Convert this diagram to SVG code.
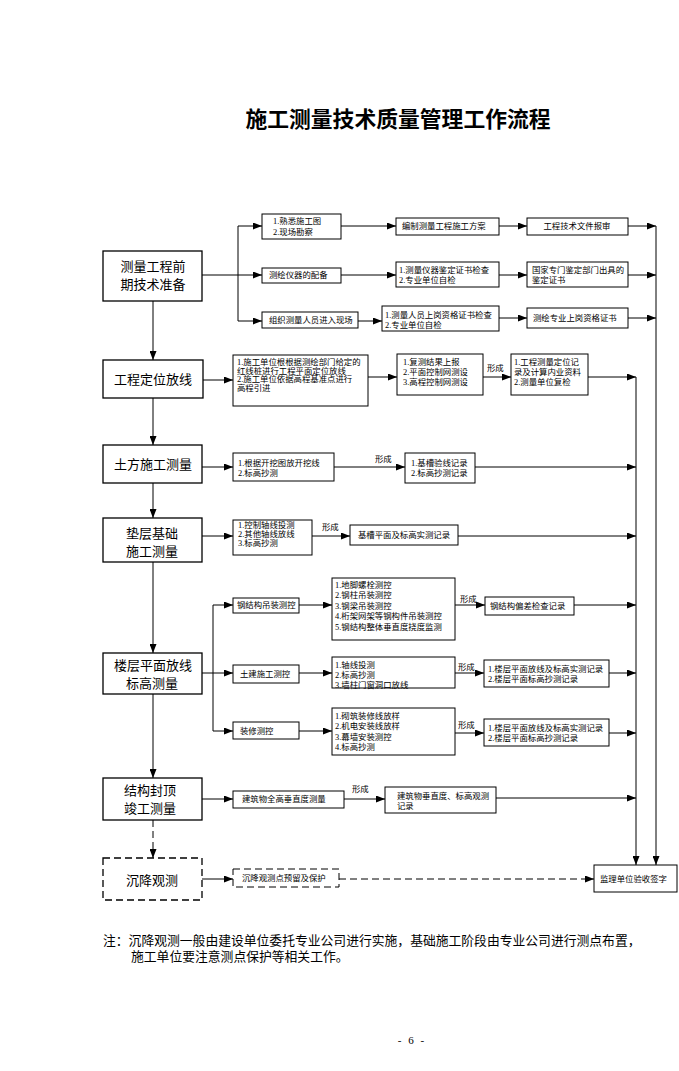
<svg xmlns="http://www.w3.org/2000/svg" width="679" height="1071" viewBox="0 0 679 1071">
<style>
.bg{fill:#fff}
.box{fill:#fff;stroke:#000;stroke-width:1}
.big{fill:#fff;stroke:#000;stroke-width:1.3}
.dash{stroke-dasharray:7,4}
.ln{fill:none;stroke:#000;stroke-width:1}
text{font-family:"Liberation Serif","Noto Sans CJK SC",serif;fill:#000}
.s{font-size:8.4px;dominant-baseline:central}
.L{font-size:13px;dominant-baseline:central;text-anchor:middle}
.c{text-anchor:middle}
</style>
<defs>
<marker id="ah" markerUnits="userSpaceOnUse" markerWidth="9" markerHeight="7" refX="9" refY="3.5" orient="auto">
<path d="M0,0 L9,3.5 L0,7 z" fill="#000"/>
</marker>
</defs>
<rect class="bg" x="0" y="0" width="679" height="1071"/>
<text x="398" y="127" font-size="21.8" font-weight="bold" text-anchor="middle">施工测量技术质量管理工作流程</text>

<g id="connectors">
<g class="ln" marker-end="url(#ah)">
<path d="M202,275 H262"/>
<path d="M238,226 H262"/>
<path d="M238,321 H262"/>
<path d="M341,226 H396"/>
<path d="M341,275 H396"/>
<path d="M358,321 H382"/>
<path d="M499,226 H527"/>
<path d="M499,275 H527"/>
<path d="M499,318 H527"/>
<path d="M628,226 H656"/>
<path d="M628,275 H656"/>
<path d="M628,318 H656"/>
<path d="M656,226 V865"/>
<path d="M636,377 V865"/>
<path d="M153,301 V360"/>
<path d="M153,398 V445"/>
<path d="M153,483 V518"/>
<path d="M153,562 V653"/>
<path d="M153,694 V778"/>
<path d="M153,820 V858" class="dash"/>
<path d="M203,380 H233"/>
<path d="M368,377 H397"/>
<path d="M483,377 H511"/>
<path d="M588,377 H636"/>
<path d="M202,467 H233"/>
<path d="M334,467 H405"/>
<path d="M475,467 H636"/>
<path d="M202,536 H233"/>
<path d="M312,536 H350"/>
<path d="M458,536 H636"/>
<path d="M213,605 H233"/>
<path d="M202,673 H233"/>
<path d="M213,731 H233"/>
<path d="M299,605 H332"/>
<path d="M299,673 H332"/>
<path d="M299,731 H332"/>
<path d="M455,605 H485"/>
<path d="M455,673 H484"/>
<path d="M455,733 H484"/>
<path d="M574,605 H636"/>
<path d="M609,673 H636"/>
<path d="M609,733 H636"/>
<path d="M202,799 H233"/>
<path d="M344,799 H385"/>
<path d="M496,798 H636"/>
<path d="M202,879 H233"/>
<path d="M339,879 H594" class="dash"/>
</g>
<path class="ln" d="M238,226 V321"/>
<path class="ln" d="M213,605 V731"/>
<text class="s" x="487" y="368">形成</text>
<text class="s" x="375" y="459">形成</text>
<text class="s" x="322" y="527">形成</text>
<text class="s" x="460" y="599">形成</text>
<text class="s" x="458" y="667">形成</text>
<text class="s" x="458" y="725">形成</text>
<text class="s" x="352" y="789">形成</text>
</g>

<g id="n1"><rect class="big" x="103" y="251" width="99" height="50"/><text class="L" x="153" y="266">测量工程前</text><text class="L" x="153" y="284">期技术准备</text></g>
<g id="n2"><rect class="big" x="103" y="360" width="100" height="38"/><text class="L" x="153" y="379">工程定位放线</text></g>
<g id="n3"><rect class="big" x="103" y="445" width="99" height="38"/><text class="L" x="153" y="464">土方施工测量</text></g>
<g id="n4"><rect class="big" x="103" y="518" width="99" height="44"/><text class="L" x="152" y="533">垫层基础</text><text class="L" x="152" y="551">施工测量</text></g>
<g id="n5"><rect class="big" x="103" y="653" width="99" height="41"/><text class="L" x="153" y="665">楼层平面放线</text><text class="L" x="152" y="683">标高测量</text></g>
<g id="n6"><rect class="big" x="103" y="778" width="99" height="42"/><text class="L" x="150" y="790">结构封顶</text><text class="L" x="150" y="808">竣工测量</text></g>
<g id="n7"><rect class="big dash" x="103" y="858" width="99" height="42"/><text class="L" x="152" y="880">沉降观测</text></g>

<g id="a1"><rect class="box" x="262" y="214" width="79" height="25"/><text class="s" x="273" y="221">1.熟悉施工图</text><text class="s" x="273" y="232">2.现场勘察</text></g>
<g id="a2"><rect class="box" x="262" y="268" width="79" height="15"/><text class="s" x="269" y="275.5">测绘仪器的配备</text></g>
<g id="a3"><rect class="box" x="262" y="312" width="96" height="16"/><text class="s" x="269" y="320">组织测量人员进入现场</text></g>
<g id="b1"><rect class="box" x="396" y="218" width="103" height="17"/><text class="s" x="402" y="226.5">编制测量工程施工方案</text></g>
<g id="b2"><rect class="box" x="396" y="262" width="103" height="25"/><text class="s" x="399" y="270">1.测量仪器鉴定证书检查</text><text class="s" x="399" y="280">2.专业单位自检</text></g>
<g id="b3"><rect class="box" x="382" y="306" width="117" height="25"/><text class="s" x="385" y="315">1.测量人员上岗资格证书检查</text><text class="s" x="385" y="325">2.专业单位自检</text></g>
<g id="c1"><rect class="box" x="527" y="218" width="101" height="17"/><text class="s c" x="577" y="226.5">工程技术文件报审</text></g>
<g id="c2"><rect class="box" x="527" y="262" width="101" height="25"/><text class="s" x="532" y="270">国家专门鉴定部门出具的</text><text class="s" x="532" y="280">鉴定证书</text></g>
<g id="c3"><rect class="box" x="527" y="308" width="101" height="20"/><text class="s" x="533" y="318">测绘专业上岗资格证书</text></g>

<g id="d1"><rect class="box" x="233" y="355" width="135" height="51"/><text class="s" x="237" y="362">1.施工单位根根据测绘部门给定的</text><text class="s" x="237" y="371">红线桩进行工程平面定位放线</text><text class="s" x="237" y="379.5">2.施工单位依据高程基准点进行</text><text class="s" x="237" y="388">高程引进</text></g>
<g id="d2"><rect class="box" x="397" y="354" width="86" height="41"/><text class="s" x="403" y="362">1.复测结果上报</text><text class="s" x="403" y="372">2.平面控制网测设</text><text class="s" x="403" y="382">3.高程控制网测设</text></g>
<g id="d3"><rect class="box" x="511" y="354" width="77" height="41"/><text class="s" x="514" y="362">1.工程测量定位记</text><text class="s" x="514" y="372">录及计算内业资料</text><text class="s" x="514" y="382">2.测量单位复检</text></g>

<g id="e1"><rect class="box" x="233" y="453" width="101" height="28"/><text class="s" x="238" y="463">1.根据开挖图放开挖线</text><text class="s" x="238" y="473">2.标高抄测</text></g>
<g id="e2"><rect class="box" x="405" y="453" width="70" height="30"/><text class="s" x="411" y="463">1.基槽验线记录</text><text class="s" x="411" y="473">2.标高抄测记录</text></g>

<g id="f1"><rect class="box" x="233" y="520" width="79" height="35"/><text class="s" x="238" y="525">1.控制轴线投测</text><text class="s" x="238" y="534">2.其他轴线放线</text><text class="s" x="238" y="543">3.标高抄测</text></g>
<g id="f2"><rect class="box" x="350" y="525" width="108" height="20"/><text class="s" x="358" y="535">基槽平面及标高实测记录</text></g>

<g id="g1"><rect class="box" x="233" y="598" width="66" height="15"/><text class="s" x="237" y="605.5">钢结构吊装测控</text></g>
<g id="g2"><rect class="box" x="332" y="578" width="123" height="62"/><text class="s" x="335" y="585">1.地脚螺栓测控</text><text class="s" x="335" y="595.5">2.钢柱吊装测控</text><text class="s" x="335" y="606">3.钢梁吊装测控</text><text class="s" x="335" y="616.5">4.桁架网架等钢构件吊装测控</text><text class="s" x="335" y="627">5.钢结构整体垂直度挠度监测</text></g>
<g id="g3"><rect class="box" x="485" y="597" width="89" height="18"/><text class="s" x="490" y="606">钢结构偏差检查记录</text></g>

<g id="h1"><rect class="box" x="233" y="665" width="66" height="18"/><text class="s" x="240" y="674">土建施工测控</text></g>
<g id="h2"><rect class="box" x="332" y="657" width="123" height="31"/><text class="s" x="335" y="665">1.轴线投测</text><text class="s" x="335" y="675">2.标高抄测</text><text class="s" x="335" y="685">3.墙柱门窗洞口放线</text></g>
<g id="h3"><rect class="box" x="484" y="660" width="125" height="27"/><text class="s" x="488" y="669">1.楼层平面放线及标高实测记录</text><text class="s" x="488" y="679">2.楼层平面标高抄测记录</text></g>

<g id="i1"><rect class="box" x="233" y="722" width="66" height="17"/><text class="s" x="240" y="731">装修测控</text></g>
<g id="i2"><rect class="box" x="332" y="708" width="123" height="47"/><text class="s" x="335" y="716">1.砌筑装修线放样</text><text class="s" x="335" y="726.5">2.机电安装线放样</text><text class="s" x="335" y="737">3.幕墙安装测控</text><text class="s" x="335" y="747.5">4.标高抄测</text></g>
<g id="i3"><rect class="box" x="484" y="719" width="125" height="27"/><text class="s" x="488" y="728">1.楼层平面放线及标高实测记录</text><text class="s" x="488" y="738">2.楼层平面标高抄测记录</text></g>

<g id="j1"><rect class="box" x="233" y="791" width="111" height="17"/><text class="s" x="242" y="799.5">建筑物全高垂直度测量</text></g>
<g id="j2"><rect class="box" x="385" y="787" width="111" height="26"/><text class="s" x="397" y="796">建筑物垂直度、标高观测</text><text class="s" x="397" y="806">记录</text></g>

<g id="k1"><rect class="box dash" x="233" y="869" width="106" height="18"/><text class="s" x="242" y="878">沉降观测点预留及保护</text></g>
<g id="k2"><rect class="box" x="594" y="865" width="83" height="27"/><text class="s" x="600" y="879">监理单位验收签字</text></g>

<text x="103" y="945" font-size="12.8">注：沉降观测一般由建设单位委托专业公司进行实施，基础施工阶段由专业公司进行测点布置，</text>
<text x="131" y="961" font-size="12.8">施工单位要注意测点保护等相关工作。</text>
<text x="412" y="1044" font-size="11" letter-spacing="2" text-anchor="middle">- 6 -</text>
</svg>
